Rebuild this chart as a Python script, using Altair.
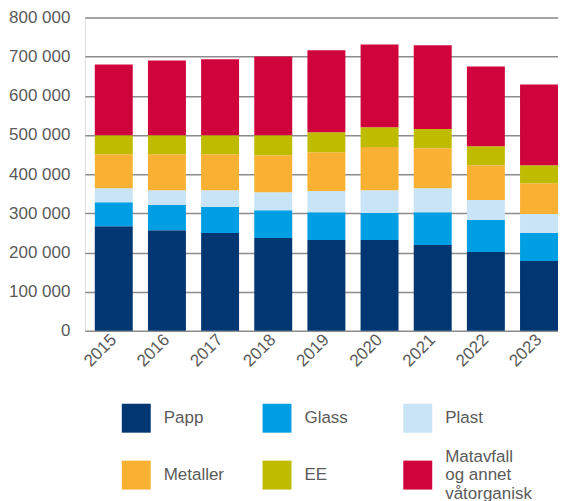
import altair as alt
import pandas as pd

years = ["2015", "2016", "2017", "2018", "2019", "2020", "2021", "2022", "2023"]
categories = ["Papp", "Glass", "Plast", "Metaller", "EE", "Matavfall og annet våtorganisk"]
colors = ["#003671", "#009FE3", "#C8E4F6", "#F8B133", "#BFBB00", "#D0043C"]

papp = [267000, 257000, 250000, 237000, 232000, 232000, 219000, 201000, 178000]
glass = [61000, 64000, 66000, 71000, 71000, 69000, 84000, 82000, 72000]
plast = [36000, 38000, 43000, 46000, 54000, 58000, 61000, 51000, 48000]
metaller = [87000, 92000, 92000, 94000, 99000, 110000, 102000, 89000, 79000]
ee = [48000, 48000, 48000, 51000, 51000, 51000, 49000, 48000, 46000]
matavfall = [181000, 191000, 194000, 201000, 209000, 211000, 214000, 204000, 206000]

series = [papp, glass, plast, metaller, ee, matavfall]
rows = []
for ci, (cat, vals) in enumerate(zip(categories, series)):
    for y, v in zip(years, vals):
        rows.append({"År": y, "Kategori": cat, "Tonn": v, "idx": ci})
df = pd.DataFrame(rows)

FONT = "Liberation Sans"
TXT = "#5a5a5a"
LONG = categories[-1]

chart = alt.Chart(df).mark_bar(strokeWidth=0).encode(
    x=alt.X("År:N", sort=years, title=None,
            scale=alt.Scale(paddingInner=0.286, paddingOuter=0.0935, align=1),
            axis=alt.Axis(labelAngle=-45, labelAlign="right", labelBaseline="middle",
                          ticks=False, domain=False, labelPadding=6,
                          labelFontSize=17, labelColor=TXT, labelFont=FONT)),
    y=alt.Y("Tonn:Q", title=None, stack="zero",
            scale=alt.Scale(domain=[0, 800000], nice=False),
            axis=alt.Axis(values=[0, 100000, 200000, 300000, 400000, 500000, 600000, 700000, 800000],
                          labelExpr="replace(format(datum.value, ','), ',', ' ')",
                          ticks=False, domain=False, grid=True, gridColor="#8c8c8c",
                          gridWidth=1.5, labelPadding=15, labelFontSize=17,
                          labelColor=TXT, labelFont=FONT)),
    color=alt.Color("Kategori:N", sort=categories,
                    scale=alt.Scale(domain=categories, range=colors),
                    legend=alt.Legend(title=None, orient="none", legendX=37, legendY=381,
                                      direction="horizontal", columns=3,
                                      symbolType="square", symbolSize=841,
                                      symbolStrokeWidth=0, symbolOpacity=1,
                                      labelFontSize=17, labelColor=TXT, labelFont=FONT,
                                      labelOffset=13, labelLimit=200,
                                      columnPadding=12, rowPadding=9,
                                      gridAlign="all",
                                      labelExpr=f"datum.label == '{LONG}' ? ['Matavfall', 'og annet', 'våtorganisk'] : datum.label")),
    order=alt.Order("idx:Q", sort="ascending"),
).properties(width=474, height=314, padding=0).configure_view(stroke=None).configure_axis(
    gridOpacity=1
).configure(
    style={"guide-label": {"lineHeight": 18.5,
                           "dy": {"expr": f"datum.value === '{LONG}' ? -18.5 : 0"}}}
)

chart.save("out.html", embed_options={"renderer": "svg", "actions": False})
